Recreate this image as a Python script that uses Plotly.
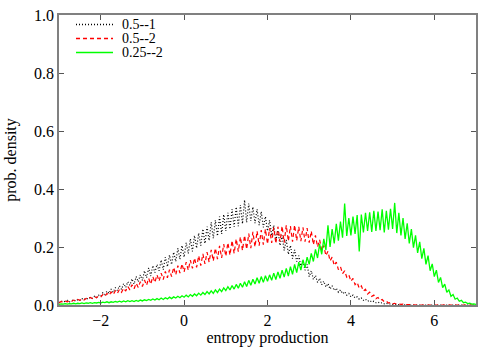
import plotly.graph_objects as go

x_start, x_step, n_pts = -3.0, 0.05, 201
x_vals = [round(x_start + i * x_step, 2) for i in range(n_pts)]

black_05_1 = [
    0.008,0.014,0.010,0.012,0.016,0.011,0.015,0.018,0.013,0.019,0.016,0.022,0.018,0.024,0.020,0.027,0.023,0.030,0.026,0.034,
    0.030,0.042,0.036,0.048,0.040,0.055,0.044,0.060,0.050,0.066,0.054,0.074,0.060,0.080,0.068,0.090,0.072,0.098,0.080,0.104,
    0.085,0.118,0.094,0.128,0.100,0.136,0.112,0.140,0.118,0.155,0.122,0.165,0.132,0.172,0.140,0.182,0.150,0.195,0.158,0.205,
    0.165,0.215,0.178,0.228,0.185,0.240,0.196,0.248,0.205,0.262,0.212,0.270,0.222,0.285,0.230,0.292,0.238,0.305,0.245,0.312,
    0.255,0.318,0.262,0.330,0.270,0.338,0.272,0.345,0.280,0.362,0.285,0.350,0.290,0.338,0.282,0.330,0.275,0.322,0.268,0.305,
    0.255,0.292,0.240,0.275,0.222,0.258,0.205,0.240,0.188,0.225,0.175,0.205,0.160,0.190,0.150,0.170,0.135,0.155,0.120,0.140,
    0.098,0.118,0.088,0.102,0.078,0.092,0.070,0.082,0.062,0.074,0.055,0.066,0.050,0.058,0.044,0.052,0.039,0.046,0.034,0.040,
    0.028,0.034,0.024,0.028,0.020,0.024,0.016,0.020,0.013,0.016,0.010,0.013,0.008,0.010,0.006,0.008,0.004,0.006,0.003,0.004,
    0.002,0.003,0.001,0.002,0.001,0.001,0.000,0.001,0.000,0.000,
    0,0,0,0,0,0,0,0,0,0,0,0,0,0,0,0,0,0,0,0,0,0,0,0,0,0,0,0,0,0,0,
]

red_05_2 = [
    0.007,0.012,0.009,0.013,0.011,0.015,0.012,0.017,0.014,0.019,0.016,0.021,0.017,0.023,0.020,0.026,0.022,0.029,0.025,0.031,
    0.027,0.036,0.030,0.040,0.033,0.045,0.036,0.049,0.040,0.054,0.044,0.058,0.048,0.064,0.052,0.070,0.056,0.075,0.060,0.080,
    0.064,0.086,0.068,0.092,0.072,0.098,0.078,0.104,0.082,0.110,0.088,0.116,0.094,0.122,0.098,0.130,0.104,0.136,0.110,0.142,
    0.114,0.148,0.120,0.155,0.126,0.162,0.130,0.170,0.136,0.176,0.142,0.182,0.148,0.190,0.152,0.196,0.158,0.204,0.162,0.210,
    0.168,0.215,0.172,0.222,0.178,0.228,0.184,0.235,0.188,0.240,0.192,0.246,0.196,0.252,0.200,0.255,0.205,0.258,0.208,0.262,
    0.210,0.265,0.214,0.268,0.212,0.270,0.218,0.272,0.215,0.275,0.220,0.272,0.218,0.276,0.222,0.270,0.220,0.268,0.218,0.265,
    0.215,0.255,0.208,0.240,0.200,0.225,0.188,0.205,0.170,0.185,0.152,0.165,0.136,0.148,0.122,0.132,0.108,0.118,0.096,0.104,
    0.082,0.092,0.070,0.078,0.058,0.066,0.048,0.054,0.038,0.044,0.030,0.034,0.022,0.026,0.016,0.019,0.011,0.013,0.007,0.009,
    0.004,0.006,0.003,0.004,0.002,0.003,0.001,0.002,0.001,0.001,
    0,0,0,0,0,0,0,0,0,0,0,0,0,0,0,0,0,0,0,0,0,0,0,0,0,0,0,0,0,0,0,
]

green_025_2 = [
    0.002,0.004,0.003,0.005,0.003,0.005,0.004,0.006,0.004,0.006,0.005,0.007,0.005,0.007,0.006,0.008,0.006,0.008,0.007,0.009,
    0.007,0.010,0.008,0.011,0.008,0.011,0.009,0.012,0.010,0.013,0.010,0.014,0.011,0.015,0.012,0.015,0.012,0.016,0.013,0.017,
    0.014,0.018,0.015,0.019,0.016,0.021,0.017,0.022,0.018,0.024,0.019,0.025,0.021,0.027,0.022,0.028,0.024,0.030,0.025,0.032,
    0.027,0.034,0.028,0.036,0.030,0.038,0.032,0.041,0.034,0.043,0.036,0.046,0.038,0.049,0.040,0.052,0.043,0.055,0.046,0.059,
    0.050,0.063,0.052,0.067,0.055,0.071,0.058,0.075,0.061,0.080,0.064,0.085,0.068,0.089,0.072,0.094,0.075,0.098,0.078,0.101,
    0.082,0.104,0.085,0.110,0.088,0.114,0.092,0.120,0.096,0.126,0.100,0.132,0.106,0.140,0.112,0.148,0.120,0.156,0.128,0.165,
    0.140,0.178,0.150,0.192,0.162,0.210,0.175,0.228,0.190,0.275,0.200,0.262,0.212,0.280,0.222,0.288,0.232,0.350,0.238,0.300,
    0.240,0.305,0.245,0.310,0.185,0.312,0.250,0.318,0.255,0.320,0.252,0.325,0.255,0.322,0.258,0.330,0.250,0.325,0.260,0.332,
    0.262,0.352,0.248,0.318,0.240,0.300,0.228,0.282,0.212,0.262,0.198,0.240,0.180,0.218,0.160,0.195,0.140,0.170,0.118,0.142,
    0.098,0.120,0.078,0.095,0.060,0.072,0.044,0.052,0.030,0.036,0.020,0.024,0.013,0.016,0.008,0.010,0.005,0.006,0.003,0.004,
    0.002,
]

series_names = ["0.5--1", "0.5--2", "0.25--2"]
series_colors = ["black", "#ff0000", "#00ff00"]
series_dash = ["1px,2px", "4px,3px", "solid"]
series_width = [1.2, 1.2, 1.3]
series_data = [black_05_1, red_05_2, green_025_2]
x_ticks = [-2, 0, 2, 4, 6]
y_ticks = [0.0, 0.2, 0.4, 0.6, 0.8, 1.0]

FONT = "Liberation Serif"
FS = 16
LEG_FS = 14

fig = go.Figure()
for name, col, dash, w, ys in zip(series_names, series_colors, series_dash, series_width, series_data):
    fig.add_trace(go.Scatter(x=x_vals, y=ys, mode="lines", name=name, showlegend=False,
                             line=dict(color=col, width=w, dash=dash)))

# Manual legend (compact spacing like the original)
leg_rows_px = [24.5, 38.5, 52.5]
plot_l, plot_r, plot_t, plot_b = 59, 476, 15, 305
def px_x(p):
    return (p - plot_l) / (plot_r - plot_l)
def px_y(p):
    return (plot_b - p) / (plot_b - plot_t)
for name, col, dash, w, row in zip(series_names, series_colors, series_dash, series_width, leg_rows_px):
    fig.add_shape(type="line", xref="paper", yref="paper",
                  x0=px_x(76), x1=px_x(113), y0=px_y(row), y1=px_y(row),
                  line=dict(color=col, width=w + 0.3, dash=dash))
    fig.add_annotation(xref="paper", yref="paper", x=px_x(121), y=px_y(row),
                       xanchor="left", yanchor="middle", text=name, showarrow=False,
                       borderpad=0,
                       font=dict(family=FONT, size=LEG_FS, color="black"))

axis_common = dict(showline=True, linecolor="#808080", linewidth=1.6, mirror="ticks",
                   ticks="inside", ticklen=5, tickwidth=1, tickcolor="#555", showgrid=False,
                   automargin=False, tickfont=dict(family=FONT, size=FS, color="black"))

fig.update_layout(
    width=500, height=350,
    margin=dict(l=plot_l, r=500 - plot_r, t=plot_t, b=350 - plot_b),
    plot_bgcolor="white", paper_bgcolor="white",
    font=dict(family=FONT, size=FS, color="black"),
    xaxis=dict(range=[-3, 7], tickvals=x_ticks,
               ticktext=[("\u2212" + str(-t)) if t < 0 else str(t) for t in x_ticks],
               zeroline=False,
               title=dict(text="entropy production", font=dict(family=FONT, size=FS), standoff=4),
               **axis_common),
    yaxis=dict(range=[0, 1], tickvals=y_ticks, ticktext=[f"{t:.1f}" for t in y_ticks],
               zeroline=True, zerolinecolor="black", zerolinewidth=1,
               title=dict(text="prob. density", font=dict(family=FONT, size=FS), standoff=13),
               **axis_common),
    showlegend=False,
)

fig.write_html("out.html", config={"displayModeBar": False},
               post_script="document.body.style.margin='0px';")
